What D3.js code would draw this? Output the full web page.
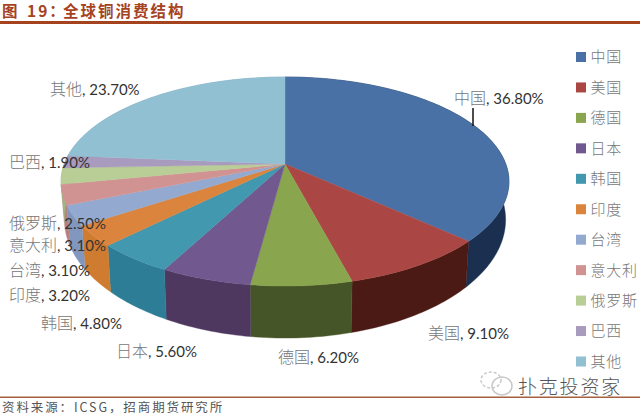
<!DOCTYPE html>
<html>
<head>
<meta charset="utf-8">
<script src="https://cdn.jsdelivr.net/npm/d3@7"></script>
<style>
  html, body { margin: 0; padding: 0; background: #fff; }
  svg { display: block; }
  .cjk { fill: #777; font-family: "Noto Sans CJK SC", sans-serif; font-weight: 300; }
  .num { fill: #333; font-family: Lato, "Noto Sans", sans-serif; }
</style>
</head>
<body>
<div id="chart"></div>
<script>
var categories = ["中国", "美国", "德国", "日本", "韩国", "印度", "台湾", "意大利", "俄罗斯", "巴西", "其他"];
var shares = [36.8, 9.1, 6.2, 5.6, 4.8, 3.2, 3.1, 3.1, 2.5, 1.9, 23.7];
var valueLabels = ["36.80%", "9.10%", "6.20%", "5.60%", "4.80%", "3.20%", "3.10%", "3.10%", "2.50%", "1.90%", "23.70%"];

var topColors = ["#4a71a5", "#aa4744", "#89a54e", "#71588f", "#4198af", "#db843d", "#93a9cf", "#d19392", "#b9cd96", "#a99bbd", "#92c0d3"];
var sideColors = ["#1b3050", "#4c1a15", "#465527", "#4e3860", "#2e7d96", "#d07c30", "#8197bd", "#b98080", "#a0b480", "#9080a5", "#7aa5b8"];

// left edge and middle of each data label, same order as categories
var labelX = [454, 428, 278, 116, 41, 9, 9, 9, 9, 9, 50];
var labelY = [98, 333, 357, 351, 323, 295, 270, 245, 223, 162, 89];

var svgWidth = 640;
var svgHeight = 415;

var svg = d3.select("#chart").append("svg")
  .attr("width", svgWidth)
  .attr("height", svgHeight);

// the pie is a tilted disc seen in perspective, so the apex sits above the middle of the ellipse
var apex = { x: 285, y: 164 };
var tilt = -0.1675;
var radiusX = 220.8;
var radiusY = 101.6;
var depth = 52;

function rim(angle) {
  var u = Math.sin(angle);
  var v = -Math.cos(angle);
  var w = 1 + tilt * v;
  return { x: apex.x + radiusX * u / w, y: apex.y + radiusY * v / w, w: w };
}

function rimBottom(angle) {
  var p = rim(angle);
  var near = (1 + tilt) / p.w;
  return { x: apex.x + (p.x - apex.x) * 0.985, y: p.y + depth * near * near };
}

function steps(a0, a1) {
  var n = Math.max(2, Math.ceil((a1 - a0) / 0.02));
  return d3.range(n + 1).map(function(i) { return a0 + (a1 - a0) * i / n; });
}

var pie = d3.pie().sort(null).value(function(d) { return d; });
var arcs = pie(shares);
var line = d3.line().x(function(d) { return d.x; }).y(function(d) { return d.y; });

var sides = svg.append("g");
var tops = svg.append("g");

arcs.forEach(function(d, i) {
  var angles = steps(d.startAngle, d.endAngle);
  var upper = angles.map(rim);
  var lower = angles.map(rimBottom).reverse();

  sides.append("path")
    .attr("d", line(upper.concat(lower)) + "Z")
    .attr("fill", sideColors[i])
    .attr("stroke", sideColors[i])
    .attr("stroke-width", 0.4);

  tops.append("path")
    .attr("d", line([apex].concat(upper)) + "Z")
    .attr("fill", topColors[i])
    .attr("stroke", topColors[i])
    .attr("stroke-width", 0.4);
});

// leader line of the China label
svg.append("line")
  .attr("x1", 473).attr("x2", 473)
  .attr("y1", 108).attr("y2", 126)
  .attr("stroke", "#111")
  .attr("stroke-width", 1.5);

// data labels
var labels = svg.append("g").selectAll("text")
  .data(categories)
  .enter()
  .append("text")
  .attr("x", function(d, i) { return labelX[i]; })
  .attr("y", function(d, i) { return labelY[i]; })
  .attr("dy", "0.36em")
  .attr("font-size", 16);

labels.append("tspan")
  .attr("class", "cjk")
  .text(function(d) { return d; });

labels.append("tspan")
  .attr("class", "num")
  .attr("font-size", 15)
  .text(function(d, i) { return ", " + valueLabels[i]; });

// legend
var legendY = d3.scalePoint()
  .domain(categories)
  .range([57, 361.5]);

var legend = svg.append("g").selectAll("g")
  .data(categories)
  .enter()
  .append("g")
  .attr("transform", function(d) { return "translate(576," + legendY(d) + ")"; });

legend.append("rect")
  .attr("y", -5)
  .attr("width", 10)
  .attr("height", 10)
  .attr("fill", function(d, i) { return topColors[i]; });

legend.append("text")
  .attr("class", "cjk")
  .attr("x", 14.5)
  .attr("dy", "0.36em")
  .attr("font-size", 15)
  .attr("letter-spacing", 0.8)
  .text(function(d) { return d; });

// heading and rules
var headingParts = ["图", "19：", "全球铜消费结构"];
var headingX = [2, 27, 63];

svg.append("g").selectAll("text")
  .data(headingParts)
  .enter()
  .append("text")
  .attr("x", function(d, i) { return headingX[i]; })
  .attr("y", 17)
  .attr("fill", "#a5431f")
  .attr("font-family", "'Noto Sans CJK SC', sans-serif")
  .attr("font-weight", 700)
  .attr("font-size", 15.5)
  .attr("letter-spacing", 2)
  .text(function(d) { return d; });

svg.append("rect")
  .attr("x", 0).attr("y", 21)
  .attr("width", svgWidth).attr("height", 3)
  .attr("fill", "#a5431f");

svg.append("rect")
  .attr("x", 0).attr("y", 396.5)
  .attr("width", svgWidth).attr("height", 1.5)
  .attr("fill", "#a5613f");

svg.append("text")
  .attr("x", 2).attr("y", 412)
  .attr("fill", "#555")
  .attr("font-family", "'Noto Sans CJK SC', sans-serif")
  .attr("font-size", 12.5)
  .attr("letter-spacing", 1.9)
  .text("资料来源：ICSG，招商期货研究所");

// watermark
var mark = svg.append("g")
  .attr("fill", "none")
  .attr("stroke", "#c9c9c9")
  .attr("stroke-width", 1.5);

mark.append("ellipse")
  .attr("cx", 491).attr("cy", 380)
  .attr("rx", 10).attr("ry", 8)
  .attr("stroke-dasharray", "3 2");

mark.append("ellipse")
  .attr("cx", 502).attr("cy", 386)
  .attr("rx", 10).attr("ry", 9);

svg.append("text")
  .attr("x", 518).attr("y", 393.5)
  .attr("fill", "#555")
  .attr("font-family", "'Noto Sans CJK SC', sans-serif")
  .attr("font-weight", 300)
  .attr("font-size", 19)
  .attr("letter-spacing", 1.8)
  .text("扑克投资家");
</script>
</body>
</html>
